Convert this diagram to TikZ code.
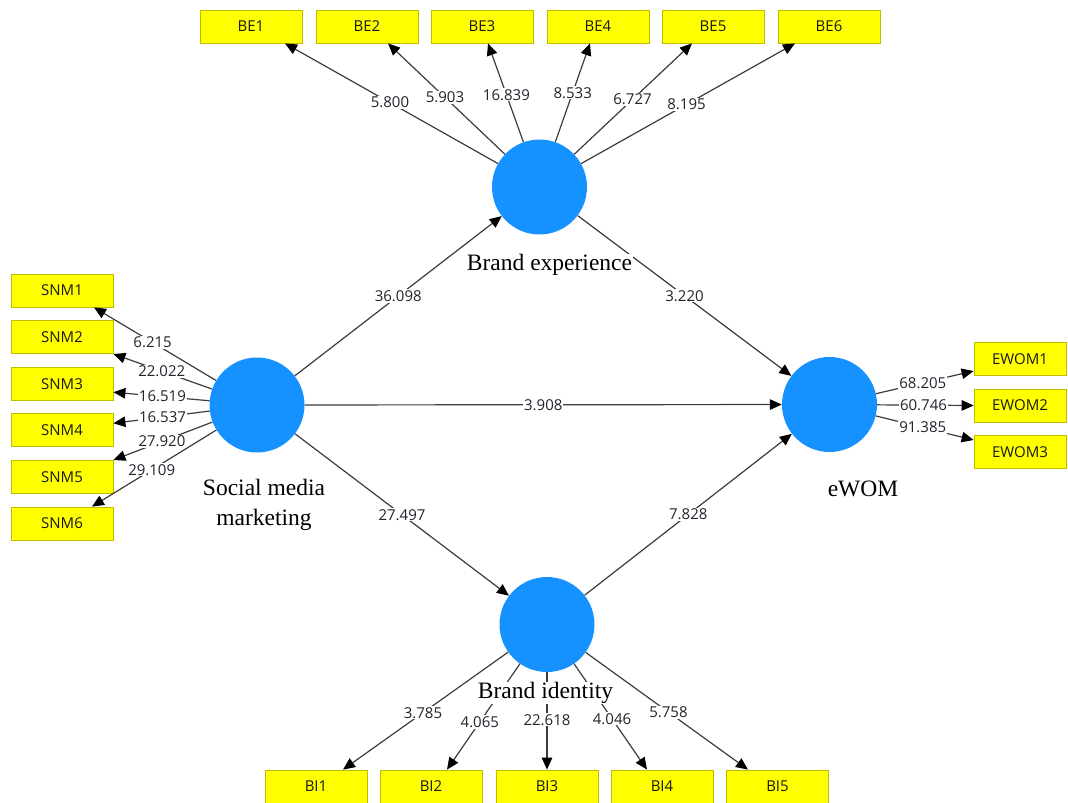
\documentclass[tikz,border=0pt]{standalone}
\usepackage{fontspec}
\setmainfont{Liberation Serif}
\newfontfamily\lblfont{Open Sans}
\usetikzlibrary{arrows.meta,calc}
\definecolor{lvblue}{RGB}{21,146,255}
\definecolor{indy}{RGB}{255,255,0}
\definecolor{indb}{RGB}{190,190,0}
\definecolor{lncol}{RGB}{60,60,60}
\definecolor{txtcol}{RGB}{35,35,45}
\begin{document}
\begin{tikzpicture}[x=1pt,y=-1pt,
 latent/.style={circle,fill=lvblue,minimum size=95pt,inner sep=0pt},
 indbox/.style={rectangle,fill=indy,draw=indb,line width=0.8pt,minimum width=102pt,minimum height=33pt,inner sep=0pt,font=\lblfont\fontsize{15}{17}\selectfont,text=black!90},
 ewbox/.style={indbox,minimum width=92pt},
 arr/.style={draw=lncol,line width=1.2pt,-{Triangle[length=12pt,width=10.5pt,fill=black,color=black]}},
 lbl/.style={fill=white,inner sep=1pt,font=\lblfont\fontsize{15}{17}\selectfont,text=txtcol},
 cname/.style={fill=white,inner sep=0.5pt,font=\fontsize{23.5}{29.5}\selectfont,align=center,text=black}]
\useasboundingbox (0,0) rectangle (1068,803);

% latent variables
\node[latent] (BE) at (539.5,187) {};
\node[latent] (SMM) at (257,405) {};
\node[latent] (EW) at (829.5,404.5) {};
\node[latent] (BI) at (547,624.5) {};

% BE indicators
\node[indbox] (BE1) at (251,26.5) {BE1};
\node[indbox] (BE2) at (367,26.5) {BE2};
\node[indbox] (BE3) at (482,26.5) {BE3};
\node[indbox] (BE4) at (598,26.5) {BE4};
\node[indbox] (BE5) at (713,26.5) {BE5};
\node[indbox] (BE6) at (829,26.5) {BE6};

% SNM indicators
\node[indbox] (SNM1) at (62,290.5) {SNM1};
\node[indbox] (SNM2) at (62,337.1) {SNM2};
\node[indbox] (SNM3) at (62,383.7) {SNM3};
\node[indbox] (SNM4) at (62,430.3) {SNM4};
\node[indbox] (SNM5) at (62,476.9) {SNM5};
\node[indbox] (SNM6) at (62,523.5) {SNM6};

% EWOM indicators
\node[ewbox] (EWOM1) at (1020,359) {EWOM1};
\node[ewbox] (EWOM2) at (1020,405.5) {EWOM2};
\node[ewbox] (EWOM3) at (1020,452) {EWOM3};

% BI indicators
\node[indbox] (BI1) at (316,786.5) {BI1};
\node[indbox] (BI2) at (431,786.5) {BI2};
\node[indbox] (BI3) at (547,786.5) {BI3};
\node[indbox] (BI4) at (662,786.5) {BI4};
\node[indbox] (BI5) at (777.5,786.5) {BI5};

% arrow end points
\coordinate (tbe1) at ($(BE1.south)+(34,0)$);
\coordinate (tbe2) at ($(BE2.south)+(21,0)$);
\coordinate (tbe3) at ($(BE3.south)+(6,0)$);
\coordinate (tbe4) at ($(BE4.south)+(-8,0)$);
\coordinate (tbe5) at ($(BE5.south)+(-21,0)$);
\coordinate (tbe6) at ($(BE6.south)+(-34,0)$);
\coordinate (tsn1) at ($(SNM1.south)+(32,0)$);
\coordinate (tsn2) at (SNM2.south east);
\coordinate (tsn3) at ($(SNM3.east)+(0,8.5)$);
\coordinate (tsn4) at ($(SNM4.east)+(0,-7)$);
\coordinate (tsn5) at (SNM5.north east);
\coordinate (tsn6) at ($(SNM6.north)+(30,0)$);
\coordinate (tew1) at ($(EWOM1.west)+(0,12)$);
\coordinate (tew2) at (EWOM2.west);
\coordinate (tew3) at ($(EWOM3.west)+(0,-12)$);
\coordinate (tbi1) at ($(BI1.north)+(27,0)$);
\coordinate (tbi2) at ($(BI2.north)+(16,0)$);
\coordinate (tbi3) at (BI3.north);
\coordinate (tbi4) at ($(BI4.north)+(-15,0)$);
\coordinate (tbi5) at ($(BI5.north)+(-29.5,0)$);

% outer model arrows
\draw[arr] (BE) -- (tbe1) node[lbl,pos=0.507] (lbe1) {5.800};
\draw[arr] (BE) -- (tbe2) node[lbl,pos=0.513] (lbe2) {5.903};
\draw[arr] (BE) -- (tbe3) node[lbl,pos=0.48] (lbe3) {16.839};
\draw[arr] (BE) -- (tbe4) node[lbl,pos=0.50] (lbe4) {8.533};
\draw[arr] (BE) -- (tbe5) node[lbl,pos=0.495] (lbe5) {6.727};
\draw[arr] (BE) -- (tbe6) node[lbl,pos=0.493] (lbe6) {8.195};

\draw[arr] (SMM) -- (tsn1) node[lbl,pos=0.52] (lsn1) {6.215};
\draw[arr] (SMM) -- (tsn2) node[lbl,pos=0.51] (lsn2) {22.022};
\draw[arr] (SMM) -- (tsn3) node[lbl,pos=0.49] (lsn3) {16.519};
\draw[arr] (SMM) -- (tsn4) node[lbl,pos=0.49] (lsn4) {16.537};
\draw[arr] (SMM) -- (tsn5) node[lbl,pos=0.51] (lsn5) {27.920};
\draw[arr] (SMM) -- (tsn6) node[lbl,pos=0.52] (lsn6) {29.109};

\draw[arr] (EW) -- (tew1) node[lbl,pos=0.48] (lew1) {68.205};
\draw[arr] (EW) -- (tew2) node[lbl,pos=0.48] (lew2) {60.746};
\draw[arr] (EW) -- (tew3) node[lbl,pos=0.48] (lew3) {91.385};

\draw[arr] (BI) -- (tbi1) node[lbl,pos=0.516] (lbi1) {3.785};
\draw[arr] (BI) -- (tbi2) node[lbl,pos=0.55] (lbi2) {4.065};
\draw[arr] (BI) -- (tbi3) node[lbl,pos=0.49] (lbi3) {22.618};
\draw[arr] (BI) -- (tbi4) node[lbl,pos=0.52] (lbi4) {4.046};
\draw[arr] (BI) -- (tbi5) node[lbl,pos=0.51] (lbi5) {5.758};

% inner model arrows
\draw[arr] (SMM) -- (BE) node[lbl,pos=0.5] (p1) {36.098};
\draw[arr] (BE) -- (EW) node[lbl,pos=0.5] (p2) {3.220};
\draw[arr] (SMM) -- (EW) node[lbl,pos=0.5] (p3) {3.908};
\draw[arr] (SMM) -- (BI) node[lbl,pos=0.5] (p4) {27.497};
\draw[arr] (BI) -- (EW) node[lbl,pos=0.5] (p5) {7.828};

% construct names
\node[cname] (nBE) at (549.5,265) {Brand experience};
\node[cname] (nSMM) at (264,505) {Social media\\marketing};
\node[cname] (nEW) at (863,489) {eWOM};
\node[cname] (nBI) at (545.5,693) {Brand identity};
\end{tikzpicture}
\end{document}
